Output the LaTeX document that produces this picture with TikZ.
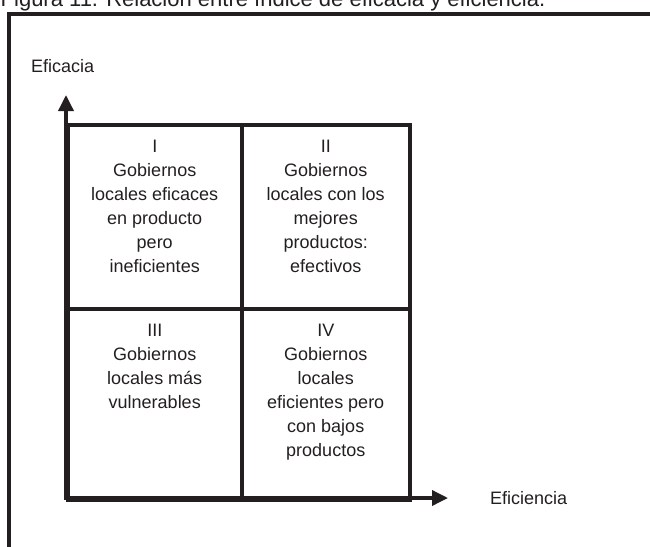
\documentclass[tikz,border=0pt]{standalone}
\usepackage{fontspec}
\setmainfont{Liberation Sans}
\usetikzlibrary{arrows.meta}
\definecolor{tinta}{RGB}{35,31,32}

\begin{document}
\begin{tikzpicture}[x=1pt, y=-1pt,
		linea/.style={line width=3.5pt, draw=tinta},
		cuadro/.style={linea, anchor=north west, inner sep=0pt},
		texto/.style={text=tinta, font=\fontsize{18}{24}\selectfont, align=center, inner sep=0pt},
		punta/.tip={Triangle[length=16pt, width=15pt]}]
		\useasboundingbox (0, 0) rectangle (650, 546);
		\clip (0, 0) rectangle (650, 546);
		
		% titulo y marco
		\node[texto, font=\fontsize{22}{26}\selectfont, anchor=base west] (titulo) at (0.5, 6.5) {Figura 11. Relación entre índice de eficacia y eficiencia.};
		\draw[linea, line width=4pt] (9, 560) -- (9, 14) -- (660, 14);
		
		% cuadrantes
		\node[cuadro, minimum width=174pt, minimum height=184pt] (q1) at (66, 123) {};
		\node[cuadro, minimum width=168pt, minimum height=184pt] (q2) at (240, 123) {};
		\node[cuadro, minimum width=174pt, minimum height=191pt] (q3) at (66, 307) {};
		\node[cuadro, minimum width=168pt, minimum height=191pt] (q4) at (240, 307) {};
		
		\node[texto, anchor=north] (t1) at ([yshift=-16.5pt]q1.north) {I\\Gobiernos\\locales eficaces\\en producto\\pero\\ineficientes};
		\node[texto, anchor=north] (t2) at ([yshift=-16.5pt]q2.north) {II\\Gobiernos\\locales con los\\mejores\\productos:\\efectivos};
		\node[texto, anchor=north] (t3) at ([yshift=-16.5pt]q3.north) {III\\Gobiernos\\locales más\\vulnerables};
		\node[texto, anchor=north] (t4) at ([yshift=-16.5pt]q4.north) {IV\\Gobiernos\\locales\\eficientes pero\\con bajos\\productos};
		
		% ejes
		\coordinate (origen) at (66, 498);
		\coordinate (ytip) at (66, 95);
		\coordinate (xtip) at (448, 498);
		\draw[linea, punta-punta] (ytip) -- (origen) -- (xtip);
		
		\node[texto, anchor=base west] (eficacia) at (31, 72) {Eficacia};
		\node[texto, anchor=base west] (eficiencia) at (490, 504) {Eficiencia};
	\end{tikzpicture}
\end{document}
